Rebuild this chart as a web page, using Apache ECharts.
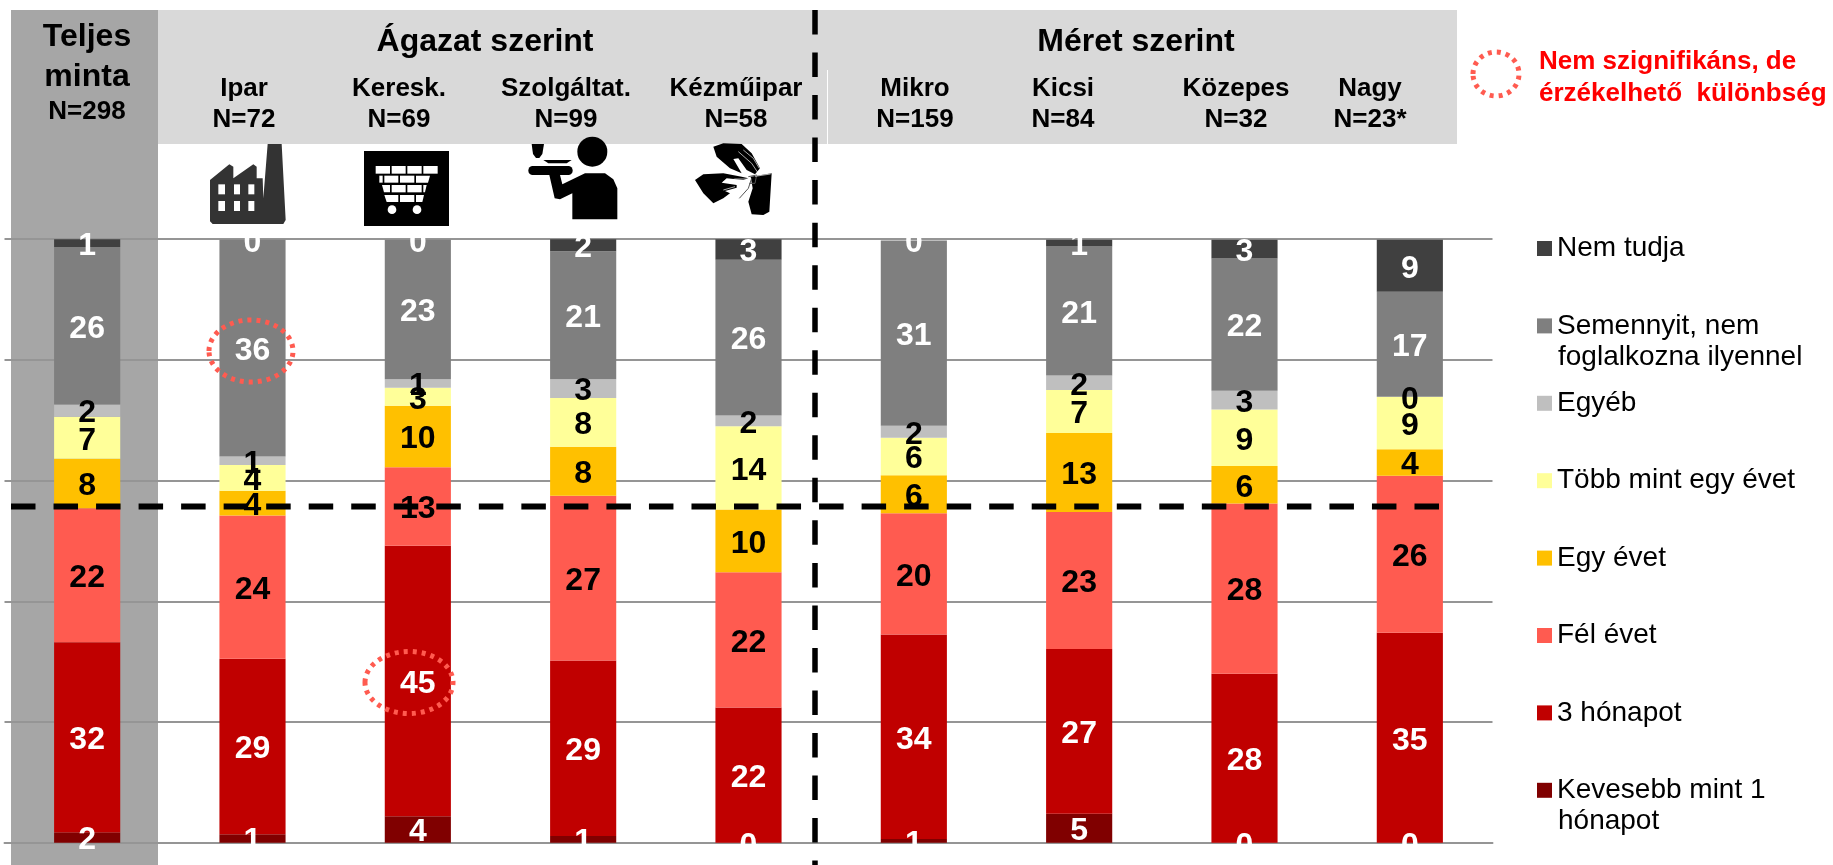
<!DOCTYPE html>
<html>
<head>
<meta charset="utf-8">
<title>Teljes minta</title>
<style>
  html, body { margin: 0; padding: 0; background: #fff; }
  #main { width: 1833px; height: 865px; }
</style>
<script src="https://cdn.jsdelivr.net/npm/echarts@6/dist/echarts.min.js"></script>
</head>
<body>
<div id="main"></div>
<script>
const categories = ['Teljes minta', 'Ipar', 'Keresk.', 'Szolgáltat.', 'Kézműipar', 'Mikro', 'Kicsi', 'Közepes', 'Nagy']

// bottom segment first
const kevesebb = [1.7, 1.4, 4.4, 1.1, 0, 0.6, 4.8, 0, 0]
const haromHonap = [31.5, 29.1, 44.8, 29.1, 22.4, 33.9, 27.3, 28.0, 34.8]
const felEv = [22.2, 23.7, 13.0, 27.3, 22.4, 20.1, 22.7, 28.2, 26.0]
const egyEv = [8.2, 4.1, 10.2, 8.1, 10.4, 6.3, 13.1, 6.2, 4.4]
const tobbEv = [7.0, 4.3, 3.0, 8.1, 13.8, 6.2, 7.1, 9.4, 8.7]
const egyeb = [2.0, 1.4, 1.4, 3.1, 1.8, 2.0, 2.4, 3.1, 0]
const semennyit = [26.1, 35.9, 23.1, 21.2, 25.8, 30.7, 21.4, 21.9, 17.4]
const nemTudja = [1.3, 0, 0, 2.0, 3.4, 0, 1.1, 3.1, 8.6]

const yTicks = [0, 20, 40, 60, 80, 100]
const cutValue = 55.7

const seriesDefs = [
  { name: 'Kevesebb mint 1 hónapot', data: kevesebb, color: '#800000', label: '#fff' },
  { name: '3 hónapot', data: haromHonap, color: '#C00000', label: '#fff' },
  { name: 'Fél évet', data: felEv, color: '#FF5B50', label: '#000' },
  { name: 'Egy évet', data: egyEv, color: '#FFC000', label: '#000' },
  { name: 'Több mint egy évet', data: tobbEv, color: '#FFFF99', label: '#000' },
  { name: 'Egyéb', data: egyeb, color: '#BFBFBF', label: '#000' },
  { name: 'Semennyit, nem foglalkozna ilyennel', data: semennyit, color: '#7F7F7F', label: '#fff' },
  { name: 'Nem tudja', data: nemTudja, color: '#404040', label: '#fff' }
]

const legendRows = [
  ['Nem tudja', 'Nem tudja', ''],
  ['Semennyit, nem foglalkozna ilyennel', 'Semennyit, nem', 'foglalkozna ilyennel'],
  ['Egyéb', 'Egyéb', ''],
  ['Több mint egy évet', 'Több mint egy évet', ''],
  ['Egy évet', 'Egy évet', ''],
  ['Fél évet', 'Fél évet', ''],
  ['3 hónapot', '3 hónapot', ''],
  ['Kevesebb mint 1 hónapot', 'Kevesebb mint 1', 'hónapot']
]

const FONT = '"Liberation Sans", Arial, sans-serif'
const LEGEND_FIRST_Y = 247.5
const LEGEND_STEP = 77.4

const chart = echarts.init(document.getElementById('main'))

chart.setOption({
  animation: false,
  backgroundColor: '#fff',
  textStyle: { fontFamily: FONT },
  grid: { left: 4.5, top: 239.2, width: 1488, height: 603.5 },
  legend: legendRows.map((row, i) => ({
    data: [row[0]],
    left: 1537,
    top: LEGEND_FIRST_Y + i * LEGEND_STEP - 15,
    padding: 0,
    itemWidth: 15,
    itemHeight: 15,
    icon: 'rect',
    selectedMode: false,
    formatter: () => row[1],
    textStyle: { fontFamily: FONT, fontSize: 28, color: '#000', lineHeight: 32 }
  })),
  xAxis: {
    type: 'category',
    data: categories,
    axisLabel: { show: false },
    axisTick: { show: false },
    axisLine: { show: true, lineStyle: { color: '#959595', width: 2 } }
  },
  yAxis: {
    type: 'value',
    min: yTicks[0],
    max: yTicks[yTicks.length - 1],
    interval: 20,
    axisLabel: { show: false },
    axisTick: { show: false },
    axisLine: { show: false },
    splitLine: { lineStyle: { color: '#959595', width: 2 } }
  },
  series: seriesDefs.map(s => ({
    name: s.name,
    type: 'bar',
    stack: 'total',
    barWidth: '40%',
    data: s.data,
    itemStyle: { color: s.color },
    label: {
      show: true,
      position: 'inside',
      offset: [0, 3],
      color: s.label,
      fontFamily: FONT,
      fontWeight: 'bold',
      fontSize: 32,
      formatter: p => Math.round(p.value)
    }
  }))
})

function text (str, x, y, size, extra) {
  return {
    type: 'text',
    z: 50,
    style: Object.assign({
      text: str,
      x: x,
      y: y,
      align: 'center',
      verticalAlign: 'middle',
      font: 'bold ' + size + 'px ' + FONT,
      fill: '#000'
    }, extra)
  }
}

function dashLine (x1, y1, x2, y2, width) {
  return {
    type: 'line',
    z: 60,
    shape: { x1: x1, y1: y1, x2: x2, y2: y2 },
    style: { stroke: '#000', lineWidth: width, lineDash: [24.5, 18.03] }
  }
}

function redRing (cx, cy, rx, ry) {
  return {
    type: 'ellipse',
    z: 70,
    shape: { cx: cx, cy: cy, rx: rx, ry: ry },
    style: { fill: 'none', stroke: '#FF5B50', lineWidth: 5, lineDash: [4, 5] }
  }
}

// icon shapes are written in a 3x drawing space, the group scales them down
function icon (x, y, children) {
  return { type: 'group', x: x, y: y, scaleX: 1 / 3, scaleY: 1 / 3, z: 40, children: children }
}
function poly (points, fill) {
  return { type: 'polygon', z: 40, shape: { points: points }, style: { fill: fill } }
}
function box (x, y, w, h, fill, r) {
  return { type: 'rect', z: 40, shape: { x: x, y: y, width: w, height: h, r: r || 0 }, style: { fill: fill } }
}
function dot (cx, cy, r, fill) {
  return { type: 'circle', z: 40, shape: { cx: cx, cy: cy, r: r }, style: { fill: fill } }
}
function stroke (points, color, w) {
  return { type: 'polyline', z: 41, shape: { points: points }, style: { stroke: color, lineWidth: w, fill: 'none' } }
}

const factory = icon(200, 130, [
  poly([[30, 150], [88, 103], [100, 110], [100, 145], [160, 103], [170, 110], [170, 145], [188, 145], [190, 205], [203, 42],
    [245, 42], [257, 270], [250, 282], [38, 282], [30, 274]], '#333333'),
  box(55, 163, 20, 30, '#fff'), box(102, 163, 18, 30, '#fff'), box(145, 163, 18, 30, '#fff'),
  box(55, 213, 20, 30, '#fff'), box(102, 213, 18, 30, '#fff'), box(145, 213, 18, 30, '#fff')
])

const cart = icon(200, 130, [
  box(492, 63, 255, 225, '#000'),
  box(527, 108, 43, 23, '#fff'), box(575, 108, 42, 23, '#fff'), box(622, 108, 43, 23, '#fff'), box(670, 108, 43, 23, '#fff'),
  box(538, 137, 10, 21, '#fff'), box(553, 137, 42, 21, '#fff'), box(600, 137, 43, 21, '#fff'),
  poly([[648, 137], [690, 137], [684, 158], [648, 158]], '#fff'),
  poly([[546, 165], [570, 165], [570, 187], [552, 187]], '#fff'), box(575, 165, 42, 22, '#fff'), box(622, 165, 43, 22, '#fff'),
  poly([[670, 165], [680, 165], [675, 187], [670, 187]], '#fff'),
  poly([[553, 195], [595, 195], [595, 216], [560, 216]], '#fff'), box(600, 195, 43, 21, '#fff'),
  poly([[648, 195], [672, 195], [667, 216], [648, 216]], '#fff'),
  dot(576, 239, 13, '#fff'), dot(651, 239, 13, '#fff')
])

const waiter = icon(510, 130, [
  dot(247, 65, 45, '#000'),
  poly([[65, 42], [102, 42], [97, 72], [88, 84], [78, 84], [69, 72]], '#000'),
  poly([[100, 90], [185, 90], [170, 100], [115, 100]], '#000'),
  box(55, 108, 133, 27, '#000', 13),
  poly([[118, 135], [150, 135], [157, 163], [225, 130], [285, 130], [310, 148], [322, 175], [322, 268], [187, 268], [187, 190],
    [150, 208], [134, 205]], '#000')
])

const hands = icon(680, 135, [
  poly([[100, 35], [130, 25], [185, 27], [215, 55], [240, 100], [225, 118], [200, 105], [175, 70], [160, 72], [185, 115], [150, 100], [110, 65]], '#000'),
  poly([[45, 135], [70, 118], [130, 115], [185, 125], [205, 130], [190, 135], [140, 130], [125, 143], [170, 150], [170, 158], [135, 168],
    [150, 175], [130, 190], [100, 205], [70, 175]], '#000'),
  poly([[212, 125], [275, 115], [268, 230], [250, 240], [215, 238], [205, 200], [218, 160]], '#000'),
  stroke([[175, 50], [215, 85], [235, 115]], '#fff', 2),
  stroke([[190, 45], [220, 70], [238, 100]], '#fff', 2),
  stroke([[130, 140], [165, 132], [205, 132]], '#fff', 2),
  stroke([[130, 165], [165, 155]], '#fff', 2),
  stroke([[178, 190], [205, 160], [215, 130]], '#555', 3),
  stroke([[205, 125], [230, 120], [225, 145], [208, 145]], '#555', 3),
  stroke([[225, 124], [272, 117]], '#fff', 2)
])

const cutY = chart.convertToPixel({ yAxisIndex: 0 }, cutValue)

const elements = [
  // background panels
  { type: 'rect', z: -1, shape: { x: 11, y: 10, width: 147, height: 855 }, style: { fill: '#A6A6A6' } },
  { type: 'rect', z: -1, shape: { x: 158, y: 10, width: 1299, height: 134 }, style: { fill: '#D9D9D9' } },
  { type: 'rect', z: -1, shape: { x: 827, y: 70, width: 1, height: 74 }, style: { fill: '#fff' } },

  text('Teljes', 87, 37, 32), text('minta', 87, 77, 32), text('N=298', 87, 112, 26),
  text('Ágazat szerint', 485, 42, 32), text('Méret szerint', 1136, 42, 32),
  text('Ipar', 244, 89, 26), text('N=72', 244, 120, 26),
  text('Keresk.', 399, 89, 26), text('N=69', 399, 120, 26),
  text('Szolgáltat.', 566, 89, 26), text('N=99', 566, 120, 26),
  text('Kézműipar', 736, 89, 26), text('N=58', 736, 120, 26),
  text('Mikro', 915, 89, 26), text('N=159', 915, 120, 26),
  text('Kicsi', 1063, 89, 26), text('N=84', 1063, 120, 26),
  text('Közepes', 1236, 89, 26), text('N=32', 1236, 120, 26),
  text('Nagy', 1370, 89, 26), text('N=23*', 1370, 120, 26),

  text('Nem szignifikáns, de', 1539, 62, 26, { align: 'left', fill: '#FF0000' }),
  text('érzékelhető  különbség', 1539, 94, 26, { align: 'left', fill: '#FF0000' }),

  factory, cart, waiter, hands,

  dashLine(11, cutY, 1440, cutY, 6),
  dashLine(815, 10, 815, 865, 5.5),

  redRing(1496, 74, 23, 22),
  redRing(251, 351, 42, 31),
  redRing(409, 682.5, 44, 31)
]

// second lines of the wrapped legend entries
legendRows.forEach((row, i) => {
  if (row[2]) {
    elements.push(text(row[2], 1558, LEGEND_FIRST_Y + i * LEGEND_STEP + 32, 28, {
      align: 'left',
      font: '28px ' + FONT
    }))
  }
})

chart.setOption({ graphic: { elements: elements } })
</script>
</body>
</html>
